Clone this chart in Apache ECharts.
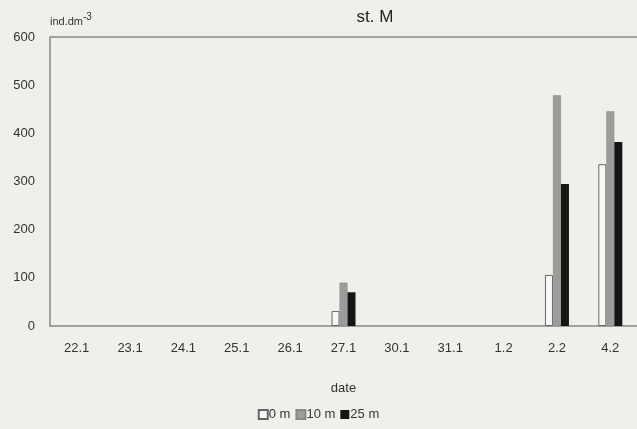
<!DOCTYPE html>
<html>
<head>
<meta charset="UTF-8"/>
<title>st. M</title>
<script src="https://cdn.jsdelivr.net/npm/echarts@6/dist/echarts.min.js"></script>
<style>
  html, body { margin: 0; padding: 0; background: #efefeb; }
  #placeholder { width: 637px; height: 429px; }
</style>
</head>
<body>
<div id="placeholder"></div>
<script type="text/javascript">
// sampling dates
var dates = ['22.1', '23.1', '24.1', '25.1', '26.1', '27.1', '30.1', '31.1', '1.2', '2.2', '4.2'];
// ind.dm-3 at each depth
var depth0 = [0, 0, 0, 0, 0, 31, 0, 0, 0, 106, 336];
var depth10 = [0, 0, 0, 0, 0, 90, 0, 0, 0, 479, 446];
var depth25 = [0, 0, 0, 0, 0, 70, 0, 0, 0, 295, 382];
var yTicks = [0, 100, 200, 300, 400, 500, 600];

var font = 'Liberation Sans';

// zero values draw nothing (no border stub on the axis)
function bars(arr) {
    return arr.map(function (v) {
        return v ? v : { value: v, itemStyle: { borderWidth: 0, opacity: 0 } };
    });
}

var myChart = echarts.init(document.getElementById('placeholder'));
var option = {
    backgroundColor: '#efefeb',
    animation: false,
    title: {
        text: 'st. M',
        left: 370,
        top: 4,
        textAlign: 'center',
        textStyle: { fontFamily: font, fontSize: 17, fontWeight: 'normal', color: '#222' }
    },
    legend: {
        bottom: 3,
        left: 'center',
        icon: 'rect',
        itemWidth: 9,
        itemHeight: 9,
        itemGap: 5,
        textStyle: { fontFamily: font, fontSize: 13, color: '#333', padding: [0, 0, 0, -4], letterSpacing: -0.5 },
        data: ['0 m', '10 m', '25 m']
    },
    grid: { left: 50, right: 0, top: 37, bottom: 103 },
    xAxis: {
        type: 'category',
        data: dates,
        name: 'date',
        nameLocation: 'middle',
        nameGap: 56,
        nameTextStyle: { fontFamily: font, fontSize: 13, color: '#333' },
        axisLine: { lineStyle: { color: '#888', width: 1.5 } },
        axisTick: { show: false },
        axisLabel: { fontFamily: font, fontSize: 13, color: '#333', margin: 16, letterSpacing: -1.2 }
    },
    yAxis: {
        type: 'value',
        min: yTicks[0],
        max: yTicks[yTicks.length - 1],
        interval: 100,
        name: '{a|ind.dm}{s|-3}',
        nameLocation: 'end',
        nameGap: 6,
        nameTextStyle: {
            align: 'left',
            padding: [0, 0, 0, 0],
            rich: {
                a: { fontFamily: font, fontSize: 11, color: '#333', letterSpacing: -0.5 },
                s: { fontFamily: font, fontSize: 10, color: '#333', verticalAlign: 'top', padding: [0, 0, 9, 0] }
            }
        },
        axisLine: { show: true, lineStyle: { color: '#888', width: 1.5 } },
        axisTick: { show: false },
        splitLine: { show: false },
        axisLabel: { fontFamily: font, fontSize: 13, color: '#333', margin: 15, letterSpacing: -1.2 }
    },
    series: [
        {
            name: '0 m',
            type: 'bar',
            data: bars(depth0),
            barWidth: 8,
            barGap: '0%',
            itemStyle: { color: '#f8f8f6', borderColor: '#666', borderWidth: 1 }
        },
        {
            name: '10 m',
            type: 'bar',
            data: bars(depth10),
            barWidth: 8,
            barGap: '0%',
            itemStyle: { color: '#9c9c9a', borderColor: '#888', borderWidth: 0.5 }
        },
        {
            name: '25 m',
            type: 'bar',
            data: bars(depth25),
            barWidth: 8,
            barGap: '0%',
            itemStyle: { color: '#151515' }
        }
    ],
    graphic: [
        {
            type: 'line',
            shape: { x1: 50, y1: 37, x2: 637, y2: 37 },
            style: { stroke: '#888', lineWidth: 1.5 }
        }
    ]
};
myChart.setOption(option, true);
</script>
</body>
</html>
